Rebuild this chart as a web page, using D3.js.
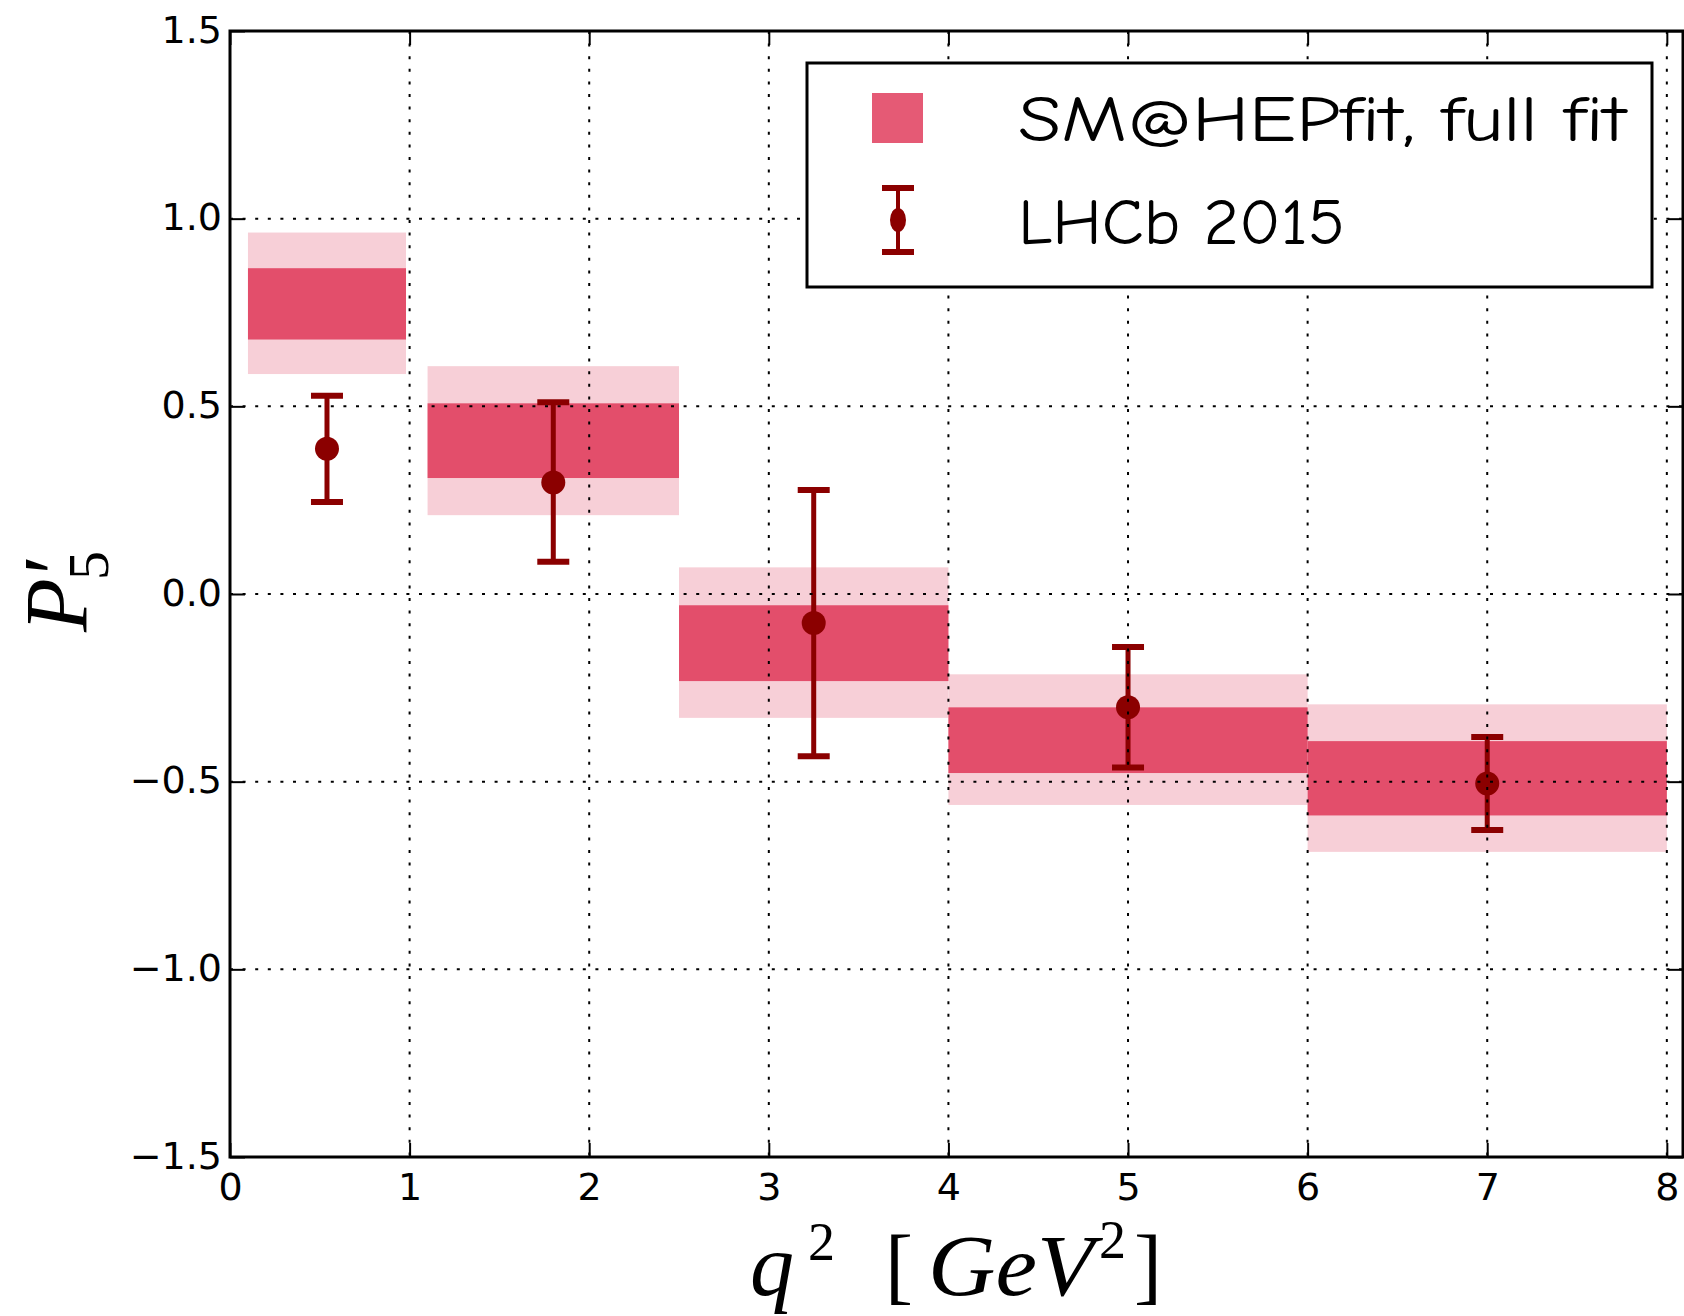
<!DOCTYPE html>
<html>
<head>
<meta charset="utf-8">
<script src="https://cdn.jsdelivr.net/npm/d3@7"></script>
<style>
  html, body { margin: 0; padding: 0; background: #fff; }
  svg { display: block; }
</style>
</head>
<body>
<svg id="chart" width="1684" height="1316"></svg>
<script>
// ---- data ----
const binLow  = [0.1, 1.1, 2.5, 4.0, 6.0];
const binHigh = [0.98, 2.5, 4.0, 6.0, 8.0];
// SM@HEPfit bands (2 sigma and 1 sigma)
const band2Low  = [0.586, 0.210, -0.330, -0.562, -0.687];
const band2High = [0.963, 0.607,  0.071, -0.214, -0.294];
const band1Low  = [0.678, 0.309, -0.232, -0.477, -0.590];
const band1High = [0.868, 0.508, -0.030, -0.302, -0.392];
// LHCb 2015 measurements
const dataX     = [0.54, 1.8, 3.25, 5.0, 7.0];
const dataY     = [0.387, 0.297, -0.077, -0.302, -0.505];
const dataUpper = [0.528, 0.511, 0.277, -0.141, -0.381];
const dataLower = [0.245, 0.086, -0.432, -0.462, -0.629];
// ticks
const xTicks = [0, 1, 2, 3, 4, 5, 6, 7, 8];
const yTicks = [-1.5, -1.0, -0.5, 0.0, 0.5, 1.0, 1.5];
const legendLabels = ["SM@HEPfit, full fit", "LHCb 2015"];

// ---- layout ----
const L = 230, R = 1683, T = 31, B = 1157;
const svg = d3.select("#chart");
const x = d3.scaleLinear().domain([0, 8.09]).range([L, R]);
const y = d3.scaleLinear().domain([-1.5, 1.5]).range([B, T]);

const darkCol = "#e34e6b", lightCol = "#f7cfd7", errCol = "#8b0000";

// bands
const bins = binLow.map((lo, i) => ({lo, hi: binHigh[i], l2: band2Low[i], h2: band2High[i], l1: band1Low[i], h1: band1High[i]}));
svg.append("g").selectAll("rect").data(bins).join("rect")
  .attr("x", d => x(d.lo)).attr("width", d => x(d.hi) - x(d.lo))
  .attr("y", d => y(d.h2)).attr("height", d => y(d.l2) - y(d.h2))
  .attr("fill", lightCol);
svg.append("g").selectAll("rect").data(bins).join("rect")
  .attr("x", d => x(d.lo)).attr("width", d => x(d.hi) - x(d.lo))
  .attr("y", d => y(d.h1)).attr("height", d => y(d.l1) - y(d.h1))
  .attr("fill", darkCol);

// error bars
const pts = dataX.map((v, i) => ({x: v, y: dataY[i], up: dataUpper[i], lo: dataLower[i]}));
const eg = svg.append("g");
const capW = 16;
pts.forEach(p => {
  eg.append("line").attr("x1", x(p.x)).attr("x2", x(p.x))
    .attr("y1", y(p.up)).attr("y2", y(p.lo))
    .attr("stroke", errCol).attr("stroke-width", 5);
  [p.up, p.lo].forEach(c => {
    eg.append("line").attr("x1", x(p.x) - capW).attr("x2", x(p.x) + capW)
      .attr("y1", y(c)).attr("y2", y(c))
      .attr("stroke", errCol).attr("stroke-width", 6);
  });
  eg.append("circle").attr("cx", x(p.x)).attr("cy", y(p.y)).attr("r", 12).attr("fill", errCol);
});

// grid (dotted, on top)
const grid = svg.append("g").attr("stroke", "#000").attr("stroke-width", 2)
  .attr("stroke-dasharray", "3,9.6");
grid.selectAll(".gx").data(xTicks.filter(t => t > 0)).join("line")
  .attr("x1", d => x(d)).attr("x2", d => x(d)).attr("y1", T).attr("y2", B);
grid.selectAll(".gy").data(yTicks.filter(t => t > -1.5 && t < 1.5)).join("line")
  .attr("x1", L).attr("x2", R).attr("y1", d => y(d)).attr("y2", d => y(d));

// axes with inward ticks
const fmt = d3.format(".1f");
const axL = svg.append("g").attr("transform", `translate(${L},0)`)
  .call(d3.axisLeft(y).tickValues(yTicks).tickFormat(fmt).tickSizeInner(-15).tickSizeOuter(0).tickPadding(8));
const axB = svg.append("g").attr("transform", `translate(0,${B})`)
  .call(d3.axisBottom(x).tickValues(xTicks).tickFormat(d3.format("d")).tickSizeInner(-14).tickSizeOuter(0).tickPadding(13));
const axR = svg.append("g").attr("transform", `translate(${R},0)`)
  .call(d3.axisRight(y).tickValues(yTicks).tickFormat("").tickSizeInner(-15).tickSizeOuter(0));
const axT = svg.append("g").attr("transform", `translate(0,${T})`)
  .call(d3.axisTop(x).tickValues(xTicks).tickFormat("").tickSizeInner(-14).tickSizeOuter(0));
[axL, axB, axR, axT].forEach(a => {
  a.select(".domain").remove();
  a.selectAll(".tick line").attr("stroke", "#000").attr("stroke-width", 2);
  a.selectAll(".tick text").attr("fill", "#000")
    .attr("font-family", "'DejaVu Sans', sans-serif").attr("font-size", 38);
});
axL.selectAll(".tick text").attr("dy", null).attr("dominant-baseline", "auto")
  .attr("y", 0).attr("dy", 11);
axB.selectAll(".tick text").attr("dy", null).attr("y", 43);

// spines
svg.append("rect").attr("x", L).attr("y", T).attr("width", R - L).attr("height", B - T)
  .attr("fill", "none").attr("stroke", "#000").attr("stroke-width", 3);

// legend
const lg = svg.append("g");
lg.append("rect").attr("x", 807).attr("y", 63).attr("width", 845).attr("height", 224)
  .attr("fill", "#fff").attr("stroke", "#000").attr("stroke-width", 3);
lg.append("rect").attr("x", 872).attr("y", 93).attr("width", 51).attr("height", 50).attr("fill", "#e55a75");
const lx = 898;
lg.append("line").attr("x1", lx).attr("x2", lx).attr("y1", 188).attr("y2", 252).attr("stroke", errCol).attr("stroke-width", 4);
[188, 252].forEach(c => lg.append("line").attr("x1", lx - 16).attr("x2", lx + 16).attr("y1", c).attr("y2", c).attr("stroke", errCol).attr("stroke-width", 6));
lg.append("ellipse").attr("cx", lx).attr("cy", 220).attr("rx", 8).attr("ry", 12).attr("fill", errCol);
const legFont = "'Comic Sans MS', 'Comic Neue', 'Humor Sans', 'DejaVu Sans', sans-serif";
lg.append("text").attr("x", 1018).attr("y", 141).text(legendLabels[0])
  .attr("font-family", legFont).attr("font-size", 64)
  .attr("textLength", 608).attr("lengthAdjust", "spacingAndGlyphs");
lg.append("text").attr("x", 1018).attr("y", 244).text(legendLabels[1])
  .attr("font-family", legFont).attr("font-size", 64)
  .attr("textLength", 327).attr("lengthAdjust", "spacingAndGlyphs");

// x label: q^2 [GeV^2]
const serif = "'Liberation Serif', 'Times New Roman', serif";
const xl = svg.append("g").attr("font-family", serif).attr("fill", "#000");
xl.append("text").attr("x", 750).attr("y", 1295).attr("font-size", 88).attr("font-style", "italic").text("q");
xl.append("text").attr("x", 808).attr("y", 1260).attr("font-size", 54).text("2");
xl.append("text").attr("x", 885).attr("y", 1294).attr("font-size", 84).text("[");
xl.append("text").attr("x", 928).attr("y", 1295).attr("font-size", 86).attr("font-style", "italic")
  .attr("textLength", 166).attr("lengthAdjust", "spacingAndGlyphs").text("GeV");
xl.append("text").attr("x", 1099).attr("y", 1258).attr("font-size", 54).text("2");
xl.append("text").attr("x", 1134).attr("y", 1294).attr("font-size", 84).text("]");

// y label: P'_5
const yl = svg.append("g").attr("transform", `translate(86,${(T + B) / 2}) rotate(-90)`)
  .attr("font-family", serif).attr("fill", "#000");
yl.append("text").attr("x", -38).attr("y", 0).attr("font-size", 88).attr("font-style", "italic").text("P");
yl.append("text").attr("x", 14).attr("y", 0).attr("font-size", 90).attr("font-style", "italic").text("′");
yl.append("text").attr("x", 14).attr("y", 22).attr("font-size", 58).text("5");
</script>
</body>
</html>
